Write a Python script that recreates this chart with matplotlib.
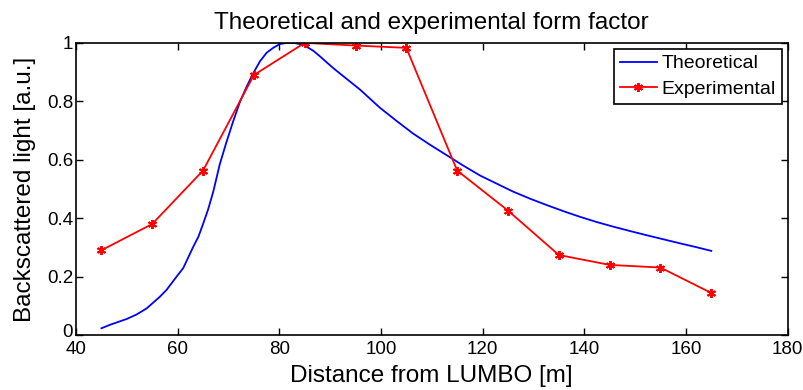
import matplotlib
matplotlib.use("Agg")
import matplotlib.pyplot as plt
import matplotlib.transforms as mtransforms
from matplotlib.ticker import FuncFormatter

plt.rcParams['font.family'] = ['Liberation Sans', 'DejaVu Sans']

theo_x = [45, 46.7, 50, 51.9, 53.9, 56.5, 57.8, 59.8, 61.1, 63.1, 64.1, 65, 66, 67, 68.3, 69.6,
          70.9, 72.3, 73.6, 74.9, 76.2, 77.5, 78.8, 80.1, 81.5, 82.8, 84.7, 86.7, 88, 90.6,
          92.6, 95.9, 99.8, 103, 106.3, 109.6, 112.9, 116.2, 119.5, 122.8, 126, 129.3, 132.6,
          135.9, 139.1, 142.4, 145.7, 149, 152.2, 155.5, 158.8, 162, 165]
theo_y = [0.023, 0.035, 0.055, 0.07, 0.091, 0.131, 0.154, 0.2, 0.229, 0.303, 0.337, 0.38, 0.43, 0.49,
          0.585, 0.66, 0.73, 0.8, 0.851, 0.897, 0.937, 0.966, 0.983, 0.996, 1.0, 1.0, 0.994, 0.973,
          0.954, 0.914, 0.886, 0.84, 0.778, 0.734, 0.69, 0.652, 0.616, 0.58, 0.546, 0.518, 0.491,
          0.467, 0.445, 0.424, 0.405, 0.387, 0.371, 0.356, 0.342, 0.328, 0.314, 0.301, 0.288]

exp_x = [45, 55, 65, 75, 85, 95, 105, 115, 125, 135, 145, 155, 165]
exp_y = [0.29, 0.38, 0.563, 0.89, 1.0, 0.991, 0.983, 0.563, 0.426, 0.274, 0.24, 0.231, 0.144]

title = "Theoretical and experimental form factor"
xlabel = "Distance from LUMBO [m]"
ylabel = "Backscattered light [a.u.]"
xticks = [40, 60, 80, 100, 120, 140, 160, 180]
yticks = [0, 0.2, 0.4, 0.6, 0.8, 1]

fig = plt.figure(figsize=(8.04, 3.9), dpi=100)
ax = fig.add_axes([0.0945, 0.141, 0.885, 0.749])
ax.plot(theo_x, theo_y, color='#0000ff', lw=1.3, label='Theoretical')
ax.plot(exp_x, exp_y, color='#ff0000', lw=1.3, marker=(6, 2, 0), ms=6.5, mew=1.4, label='Experimental')

ax.set_xlim(40, 180)
ax.set_ylim(0, 1)
ax.set_xticks(xticks)
ax.set_yticks(yticks)
ax.yaxis.set_major_formatter(FuncFormatter(lambda v, p: ('%g' % v)))
ax.tick_params(direction='in', top=True, right=True, labelsize=13.5, length=5, width=1)
ax.tick_params(axis='x', pad=4.5)
ax.tick_params(axis='y', pad=2)
for s in ax.spines.values():
    s.set_linewidth(1.2)
ax.set_title(title, fontsize=17.5, pad=10)
ax.set_xlabel(xlabel, fontsize=17.5, labelpad=5)
ax.set_ylabel(ylabel, fontsize=17.5, labelpad=8)
leg = ax.legend(loc='upper right', fontsize=14, fancybox=False, framealpha=1,
                edgecolor='black', bbox_to_anchor=(0.992, 0.979), borderaxespad=0,
                handlelength=1.9, borderpad=0.3, labelspacing=0.4, handletextpad=0.25)
leg.get_frame().set_linewidth(1.2)

# nudge the "0" y tick label up slightly so it does not collide with "40"
lbl0 = ax.yaxis.get_major_ticks()[0].label1
lbl0.set_transform(lbl0.get_transform() + mtransforms.ScaledTranslation(0, 3 / 72, fig.dpi_scale_trans))

fig.savefig('out.png', dpi=100)
